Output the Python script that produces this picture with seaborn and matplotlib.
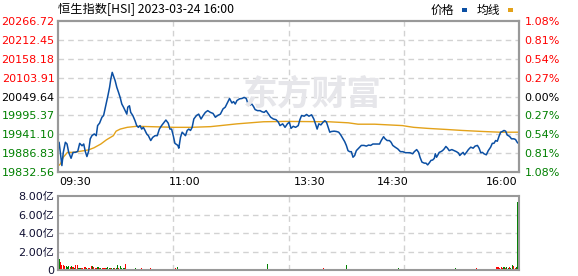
import numpy as np
import pandas as pd
import matplotlib
matplotlib.use("Agg")
import matplotlib.pyplot as plt
import seaborn as sns
from matplotlib.patches import Rectangle

sns.set_theme(style="white")
plt.rcParams['font.family'] = ['DejaVu Sans', 'Noto Sans CJK SC']

# ---------------- data ----------------
title = "恒生指数[HSI] 2023-03-24 16:00"
prev_close = 20049.64
y_ticks = [19832.56, 19886.83, 19941.10, 19995.37, 20049.64, 20103.91, 20158.18, 20212.45, 20266.72]
pct_labels = ['1.08%', '0.81%', '0.54%', '0.27%', '0.00%', '0.27%', '0.54%', '0.81%', '1.08%']
x_ticks = [0, 90, 180, 240, 330]
x_labels = ['09:30', '11:00', '13:30', '14:30', '16:00']
vol_ticks = [0, 2, 4, 6, 8]
vol_labels = ['0', '2.00亿', '4.00亿', '6.00亿', '8.00亿']

# price (minutes after 09:30, trading time), morning part
price_min_am = [0, 2, 3, 4.5, 5.7, 6.9, 8.6, 10, 11.7, 13.4, 14.8, 16.5, 17.7, 18.8, 20, 21.2, 22.4, 23.6, 25.3, 26.7,
                27.7, 29.1, 30.8, 32, 33.9, 35.1, 36.3, 37.2, 38.2, 39.1, 40.3, 41.5, 42.7, 43.9, 45.1, 46.3, 47.5, 48.7,
                49.4, 50.6, 51.5, 53, 54.6, 55.8, 57, 58.2, 59.4, 60.6, 61.8, 63, 64.2, 65.9, 67.3, 69, 70.6, 72.1, 73.7,
                75.4, 76.8, 78.5, 79.7, 80.9, 82.1, 83.3, 85.4, 86.1, 87.3, 88.5, 89.7, 90.9, 92.1, 93.3, 94.5, 95.7,
                96.9, 98.8, 100.4, 102.1, 103.6, 105.2, 106.9, 108.8, 110.7, 112.4, 114, 116, 117.9, 119.5, 121.2,
                122.6, 124.3, 125.5, 126.7, 127.9, 129.8, 131.5, 133.1, 134.6, 135.5, 137.4, 138.6, 139.8, 141, 142.7,
                144.6, 145.8, 147.5, 148.9]
price_val_am = [19918, 19851, 19889, 19918, 19913, 19889, 19872, 19889, 19889, 19892, 19915, 19908, 19913, 19892, 19877,
                19892, 19928, 19937, 19942, 19937, 19966, 19973, 19990, 19995, 20030, 20052, 20076, 20100, 20119, 20109,
                20095, 20076, 20062, 20047, 20028, 20019, 20009, 19999, 20019, 20023, 20004, 19995, 19980, 19966, 19961,
                19966, 19956, 19961, 19952, 19942, 19937, 19923, 19932, 19937, 19937, 19956, 19966, 19975, 19982, 19973,
                19956, 19956, 19937, 19915, 19909, 19901, 19932, 19947, 19942, 19937, 19952, 19956, 19952, 19961, 19985,
                19995, 19999, 19985, 19995, 20004, 20009, 20004, 20001, 19990, 19995, 19999, 20014, 20019, 20033, 20044,
                20031, 20035, 20028, 20038, 20043, 20044, 20047, 20044, 20033, 20025, 20028, 20021, 20012, 20009, 20009,
                20006, 20004, 20009]
# price, afternoon part
price_min_pm = [150.6, 152.2, 154.1, 156, 157.7, 158.9, 160.8, 162.5, 164.2, 165.6, 166.8, 168.4, 170.1, 172, 173.2,
                174.4, 176.3, 178, 179.7, 181.6, 183.2, 184.4, 185.6, 186.8, 188.3, 189.9, 191.1, 192.3, 193.5, 194.7,
                195.9, 197.8, 199.5, 201.1, 202.6, 204.2, 205.4, 206.6, 207.8, 209, 210.2, 211.4, 212.6, 213.8, 215.5,
                217.4, 219.3, 221, 222.6, 224.1, 225.7, 226.9, 228.8, 230.5, 231.7, 233.4, 234.5, 236, 237.6, 238.8,
                240, 241.7, 243.6, 245.5, 247.2, 249.1, 250.8, 252.4, 254.3, 255.5, 257.2, 258.6, 259.6, 261, 262.7,
                263.9, 265.1, 266.3, 267.5, 268.7, 269.9, 270.6, 271.5, 272.5, 273.4, 274.6, 275.8, 277, 278.2, 279.4,
                280.6, 282.5, 284.2, 285.8, 287.3, 288.2, 289.4, 290.6, 291.6, 293, 294.4, 296.1, 297.8, 299.2, 300.9,
                302.1, 303.3, 304.5, 305.6, 307.3, 308.7, 310.4, 311.6, 312.8, 314, 315.2, 316.4, 317.6, 318.8, 320,
                321.2, 322.3, 324, 325.4, 327.1, 328.3, 329.5, 330]
price_val_pm = [19999, 19990, 19985, 19983, 19976, 19966, 19971, 19961, 19971, 19976, 19958, 19964, 19961, 19966, 19983,
                19995, 19993, 19998, 19993, 19997, 19985, 19971, 19956, 19971, 19968, 19976, 19980, 19976, 19961, 19947,
                19949, 19950, 19949, 19947, 19939, 19928, 19920, 19909, 19894, 19891, 19891, 19875, 19880, 19894, 19901,
                19909, 19909, 19907, 19910, 19909, 19913, 19913, 19913, 19913, 19923, 19934, 19928, 19923, 19923, 19918,
                19909, 19904, 19899, 19891, 19891, 19888, 19888, 19888, 19885, 19891, 19897, 19889, 19875, 19861, 19858,
                19858, 19853, 19859, 19866, 19867, 19872, 19885, 19875, 19882, 19889, 19891, 19894, 19899, 19906, 19901,
                19894, 19897, 19894, 19891, 19887, 19880, 19885, 19889, 19882, 19889, 19897, 19904, 19901, 19907, 19909,
                19901, 19888, 19889, 19885, 19882, 19894, 19904, 19915, 19915, 19923, 19921, 19935, 19947, 19949, 19952,
                19950, 19939, 19935, 19928, 19928, 19926, 19918, 19915.68]

# average price line
avg_min = [0, 1, 3, 6, 10, 15, 21, 25, 30, 34, 39, 41, 44, 49, 56, 65, 83, 95, 109, 128, 147, 163, 194, 208, 215,
           227, 247, 250, 255, 265, 278, 290, 305, 317, 330]
avg_val = [19852, 19856, 19875, 19889, 19889, 19892, 19896, 19902, 19913, 19925, 19937, 19950, 19956, 19961, 19964,
           19963, 19961, 19961, 19963, 19971, 19977, 19978, 19977, 19974, 19970, 19970, 19966, 19964, 19961, 19958,
           19955, 19952, 19949, 19947, 19947]

# volume per minute (亿), 09:30 ... 16:00
vol_a = [1.19, 0.90, 0.54, 0.54, 0.43, 0.43, 0.32, 0.43, 0.32, 0.43, 0.32, 0.25, 0.54, 0.54, 0.25, 0.25, 0.22, 0.20, 0.32, 0.32,
         0.25, 0.25, 0.20, 0.43, 0.43, 0.32, 0.25, 0.22, 0.32, 0.25, 0.22, 0.25, 0.22, 0.25, 0.25, 0.32, 0.18, 0.22, 0.20, 0.25,
         0.18, 0.22, 0.54, 0.18, 0.43, 0.18, 0.22, 0.18, 0.65, 0.15, 0.15, 0.15, 0.15, 0.15, 0.15, 0.18, 0.15, 0.15, 0.15, 0.18]
vol_b = [0.14, 0.12, 0.12, 0.14, 0.12, 0.12, 0.18, 0.12, 0.12, 0.14, 0.12, 0.12, 0.12, 0.14, 0.12, 0.12, 0.12, 0.12, 0.14, 0.12,
         0.12, 0.12, 0.12, 0.12, 0.18, 0.32, 0.14, 0.12, 0.12, 0.12, 0.12, 0.12, 0.12, 0.12, 0.12, 0.12, 0.12, 0.12, 0.12, 0.12,
         0.12, 0.12, 0.12, 0.12, 0.12, 0.12, 0.12, 0.12, 0.12, 0.12, 0.12, 0.12, 0.12, 0.12, 0.12, 0.12, 0.12, 0.12, 0.12, 0.12]
vol_c = [0.12, 0.12, 0.12, 0.12, 0.12, 0.12, 0.12, 0.12, 0.12, 0.12, 0.12, 0.12, 0.12, 0.12, 0.12, 0.12, 0.12, 0.12, 0.12, 0.12,
         0.12, 0.12, 0.12, 0.12, 0.12, 0.12, 0.12, 0.12, 0.12, 0.12, 0.65, 0.14, 0.12, 0.12, 0.12, 0.12, 0.12, 0.12, 0.12, 0.12,
         0.12, 0.12, 0.12, 0.12, 0.12, 0.12, 0.12, 0.12, 0.12, 0.12, 0.12, 0.12, 0.12, 0.12, 0.12, 0.12, 0.12, 0.12, 0.12, 0.12]
vol_d = [0.12, 0.12, 0.12, 0.12, 0.12, 0.12, 0.12, 0.12, 0.12, 0.12, 0.20, 0.12, 0.12, 0.12, 0.12, 0.12, 0.12, 0.12, 0.12, 0.12,
         0.12, 0.12, 0.12, 0.12, 0.12, 0.12, 0.12, 0.54, 0.12, 0.12, 0.12, 0.12, 0.12, 0.12, 0.12, 0.12, 0.12, 0.12, 0.12, 0.12,
         0.12, 0.12, 0.12, 0.12, 0.12, 0.12, 0.12, 0.12, 0.12, 0.12, 0.12, 0.12, 0.12, 0.12, 0.12, 0.12, 0.12, 0.12, 0.12, 0.12]
vol_e = [0.12, 0.12, 0.12, 0.12, 0.20, 0.12, 0.12, 0.12, 0.12, 0.12, 0.12, 0.12, 0.12, 0.12, 0.12, 0.12, 0.12, 0.12, 0.12, 0.12,
         0.12, 0.12, 0.12, 0.12, 0.12, 0.12, 0.12, 0.12, 0.12, 0.12, 0.12, 0.12, 0.12, 0.12, 0.12, 0.12, 0.12, 0.12, 0.12, 0.12,
         0.12, 0.12, 0.12, 0.12, 0.12, 0.20, 0.12, 0.12, 0.12, 0.12, 0.12, 0.12, 0.12, 0.12, 0.12, 0.12, 0.12, 0.12, 0.12, 0.12]
vol_f = [0.20, 0.12, 0.12, 0.12, 0.12, 0.12, 0.12, 0.12, 0.12, 0.12, 0.12, 0.12, 0.12, 0.12, 0.14, 0.32, 0.32, 0.20, 0.32, 0.20,
         0.32, 0.20, 0.32, 0.20, 0.36, 0.20, 0.54, 0.43, 0.20, 0.30, 7.39]
dir_a = "grrrrgggrg" "rgrrggrrrr" "grrrgrrrgr" "grrrgggrgg" "rggrggggrg" "gggrggrggr"
dir_b = "rrgrrrrgrr" "rrrgrrrrrg" "rrrrrgrgrr" "rrrgrrrrrr" "grrrrrrgrr" "rrrrgrrrrr"
dir_c = "rrrgrrrrrg" "rrrrrgrrrr" "rrgrrrrrrr" "grrrrrrrrg" "rrrrrgrrrr" "rrgrrrrgrr"
dir_d = "rrrrgrrrrr" "rrrrrgrrrg" "rrrrrrrgrr" "rrrgrrrrrr" "grrrrrrrgr" "rrrrrrgrrr"
dir_e = "rrrrgrrrrr" "rgrrrrrgrr" "rrrrgrrrrr" "rrgrrrrrrg" "rrrrrgrrrr" "rrrgrrrrrr"
dir_f = "rrrrrgrrrr" "rrgrrrrrrr" "grggrggrrg" "g"

# ---------------- build frames ----------------
price_df = pd.DataFrame({"minute": price_min_am + price_min_pm, "price": price_val_am + price_val_pm})
avg_df = pd.DataFrame({"minute": avg_min, "price": avg_val})
volumes = vol_a + vol_b + vol_c + vol_d + vol_e + vol_f
dirs = list(dir_a + dir_b + dir_c + dir_d + dir_e + dir_f)
n = min(len(volumes), len(dirs))
vol_df = pd.DataFrame({"minute": np.arange(n), "vol": volumes[:n], "dir": dirs[:n]})

RED = '#ff0000'
GREEN = '#008000'
BLUE = '#0b4fa3'
GOLD = '#e3a21a'
GRID = '#d2d2d2'
SPINE = '#999999'

fig = plt.figure(figsize=(5.78, 2.76), dpi=100)
W, H = 578.0, 276.0
L, R = 58, 519
ax = fig.add_axes([L / W, 1 - 172 / H, (R - L) / W, 151 / H])
axv = fig.add_axes([L / W, 1 - 270 / H, (R - L) / W, 74 / H])

xlo, xhi = -0.8, 330.8

# ---- main chart ----
sns.lineplot(data=avg_df, x="minute", y="price", ax=ax, color=GOLD, lw=1.0, estimator=None, sort=False, zorder=3)
sns.lineplot(data=price_df, x="minute", y="price", ax=ax, color=BLUE, lw=1.1, estimator=None, sort=False, zorder=4)
ax.set_xlim(xlo, xhi)
ax.set_ylim(y_ticks[0], y_ticks[-1])
ax.set_yticks(y_ticks)
ax.set_yticklabels([f"{v:.2f}" for v in y_ticks])
ax.set_xlabel("")
ax.set_ylabel("")
ax.grid(False)
for v in y_ticks[1:-1]:
    ax.axhline(v, color=GRID, lw=1, ls=(0, (4, 3)), zorder=1)
for q in (1, 2, 3):
    ax.axvline(xlo + (xhi - xlo) * q / 4, color=GRID, lw=1, ls=(0, (4, 3)), zorder=1)


def tick_color(v):
    if abs(v - prev_close) < 0.01:
        return '#000000'
    return RED if v > prev_close else GREEN


ax.tick_params(axis='y', length=0, pad=2.5, labelsize=8)
for lbl, v in zip(ax.get_yticklabels(), y_ticks):
    lbl.set_color(tick_color(v))
ax.set_xticks(x_ticks)
ax.set_xticklabels(x_labels)
ax.tick_params(axis='x', length=0, pad=3.5, labelsize=8, colors='#000000')
xl = ax.get_xticklabels()
xl[0].set_horizontalalignment('left')
xl[-1].set_horizontalalignment('right')

axr = ax.twinx()
axr.set_ylim(y_ticks[0], y_ticks[-1])
axr.set_yticks(y_ticks)
axr.set_yticklabels(pct_labels)
axr.tick_params(axis='y', length=0, pad=4, labelsize=8)
for lbl, v in zip(axr.get_yticklabels(), y_ticks):
    lbl.set_color(tick_color(v))
axr.grid(False)

for a in (ax, axr):
    for s in a.spines.values():
        s.set_color(SPINE)
        s.set_linewidth(1.5)

# watermark
fig.text(243 / W, 1 - 94 / H, "东方财富", fontsize=25, color='#e6e6ea', ha='left', va='center',
         family=['Noto Sans CJK SC'], fontweight='bold', zorder=0)

# ---- volume ----
sns.barplot(data=vol_df, x="minute", y="vol", hue="dir", palette={'r': RED, 'g': GREEN},
            native_scale=True, dodge=False, width=0.8, legend=False, errorbar=None,
            saturation=1, ax=axv, linewidth=0)
for p in axv.patches:
    p.set_antialiased(False)
axv.set_xlim(xlo, xhi)
axv.set_ylim(0, 8)
axv.set_yticks(vol_ticks)
axv.set_yticklabels(vol_labels)
axv.set_xticks([])
axv.set_xlabel("")
axv.set_ylabel("")
axv.grid(False)
for v in vol_ticks[1:-1]:
    axv.axhline(v, color=GRID, lw=1, ls=(0, (4, 3)), zorder=0)
for q in (1, 2, 3):
    axv.axvline(xlo + (xhi - xlo) * q / 4, color=GRID, lw=1, ls=(0, (4, 3)), zorder=0)
axv.tick_params(axis='y', length=0, pad=3, labelsize=8, colors='#111133')
for s in axv.spines.values():
    s.set_color(SPINE)
    s.set_linewidth(1.5)

# ---- title and legend ----
fig.text(58 / W, 1 - 10 / H, title, fontsize=8.8, ha='left', va='center',
         family=['Noto Sans CJK SC', 'DejaVu Sans'], color='#000000')
fig.text(454 / W, 1 - 10 / H, "价格", fontsize=8.5, ha='right', va='center',
         family=['Noto Sans CJK SC'], color='#000000')
fig.add_artist(Rectangle((462 / W, 1 - 11.5 / H), 5 / W, 3 / H, transform=fig.transFigure,
                         facecolor=BLUE, edgecolor='none'))
fig.text(500 / W, 1 - 10 / H, "均线", fontsize=8.5, ha='right', va='center',
         family=['Noto Sans CJK SC'], color='#000000')
fig.add_artist(Rectangle((508 / W, 1 - 11.5 / H), 5 / W, 3 / H, transform=fig.transFigure,
                         facecolor=GOLD, edgecolor='none'))

fig.savefig("out.png", dpi=100, facecolor='white')
